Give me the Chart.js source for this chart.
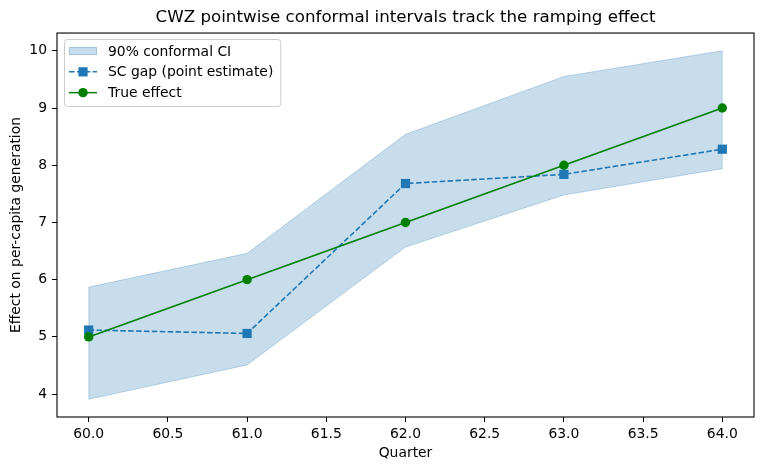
<!DOCTYPE html>
<html>
<head>
<meta charset="utf-8">
<script src="https://cdn.jsdelivr.net/npm/chart.js@4.4.1/dist/chart.umd.min.js"></script>
<style>
  body { margin: 0; background: #fff; }
  canvas { display: block; }
</style>
</head>
<body>
<canvas id="chart" width="764" height="470"></canvas>
<script>
const quarters = [60, 61, 62, 63, 64];
const ciUpper = [5.87, 6.46, 8.54, 9.55, 10.0];
const ciLower = [3.91, 4.51, 6.57, 7.48, 7.94];
const scGap = [5.12, 5.06, 7.68, 7.84, 8.28];
const trueEffect = [5, 6, 7, 8, 9];
const xTicks = [60, 60.5, 61, 61.5, 62, 62.5, 63, 63.5, 64];
const yTicks = [4, 5, 6, 7, 8, 9, 10];

const BLUE = '#1f77b4';
const GREEN = '#008000';
const BAND_FILL = 'rgba(31,119,180,0.25)';
const FONT = 'DejaVu Sans';

const pts = ys => quarters.map((q, i) => ({ x: q, y: ys[i] }));

// frame, band end edges and the legend box
const extras = {
  id: 'extras',
  beforeDatasetsDraw(chart) {
    const { ctx, scales: { x, y } } = chart;
    ctx.save();
    ctx.strokeStyle = BAND_FILL;
    ctx.lineWidth = 1;
    [0, quarters.length - 1].forEach(i => {
      const px = x.getPixelForValue(quarters[i]);
      ctx.beginPath();
      ctx.moveTo(px, y.getPixelForValue(ciLower[i]));
      ctx.lineTo(px, y.getPixelForValue(ciUpper[i]));
      ctx.stroke();
    });
    ctx.restore();
  },
  afterDraw(chart) {
    const { ctx, chartArea: a } = chart;
    ctx.save();
    ctx.strokeStyle = '#000';
    ctx.lineWidth = 1.1;
    ctx.strokeRect(a.left, a.top, a.right - a.left, a.bottom - a.top);

    // legend
    const items = [
      { label: '90% conformal CI', kind: 'band' },
      { label: 'SC gap (point estimate)', kind: 'sc' },
      { label: 'True effect', kind: 'true' }
    ];
    ctx.font = '13.9px "' + FONT + '"';
    const maxW = Math.max(...items.map(it => ctx.measureText(it.label).width));
    const bx = a.left + 7, by = a.top + 6;
    const bw = 44 + maxW + 7, bh = 67;
    ctx.beginPath();
    ctx.roundRect(bx + 0.5, by + 0.5, bw, bh, 3);
    ctx.fillStyle = 'rgba(255,255,255,0.8)';
    ctx.fill();
    ctx.strokeStyle = '#cccccc';
    ctx.lineWidth = 1;
    ctx.stroke();

    items.forEach((it, i) => {
      const cy = by + 12 + i * 20.8;
      const hx0 = bx + 5, hx1 = bx + 33, hc = (hx0 + hx1) / 2;
      if (it.kind === 'band') {
        ctx.fillStyle = BAND_FILL;
        ctx.fillRect(hx0, cy - 4, hx1 - hx0, 8);
        ctx.strokeStyle = BAND_FILL;
        ctx.strokeRect(hx0 + 0.5, cy - 3.5, hx1 - hx0 - 1, 7);
      } else {
        const col = it.kind === 'sc' ? BLUE : GREEN;
        ctx.strokeStyle = col;
        ctx.lineWidth = 1.5;
        ctx.setLineDash(it.kind === 'sc' ? [5.5, 2.4] : []);
        ctx.beginPath();
        ctx.moveTo(hx0, cy);
        ctx.lineTo(hx1, cy);
        ctx.stroke();
        ctx.setLineDash([]);
        ctx.fillStyle = col;
        if (it.kind === 'sc') {
          ctx.fillRect(hc - 4.6, cy - 4.6, 9.2, 9.2);
        } else {
          ctx.beginPath();
          ctx.arc(hc, cy, 4.7, 0, Math.PI * 2);
          ctx.fill();
        }
      }
      ctx.fillStyle = '#000';
      ctx.textBaseline = 'middle';
      ctx.textAlign = 'left';
      ctx.fillText(it.label, bx + 44, cy + 1);
    });
    ctx.restore();
  }
};

const tickFont = { family: FONT, size: 13.9 };

new Chart(document.getElementById('chart'), {
  type: 'line',
  data: {
    datasets: [
      {
        label: 'True effect',
        data: pts(trueEffect),
        borderColor: GREEN,
        backgroundColor: GREEN,
        borderWidth: 1.6,
        pointStyle: 'circle',
        pointRadius: 4.7,
        pointBorderWidth: 0,
        fill: false,
        order: 0
      },
      {
        label: 'SC gap (point estimate)',
        data: pts(scGap),
        borderColor: BLUE,
        backgroundColor: BLUE,
        borderWidth: 1.6,
        borderDash: [5.5, 2.4],
        pointStyle: 'rect',
        pointRadius: 6.5,
        pointBorderWidth: 0,
        fill: false,
        order: 1
      },
      {
        label: 'lower',
        data: pts(ciLower),
        borderColor: BAND_FILL,
        borderWidth: 1,
        pointRadius: 0,
        fill: false,
        order: 2
      },
      {
        label: '90% conformal CI',
        data: pts(ciUpper),
        borderColor: BAND_FILL,
        backgroundColor: BAND_FILL,
        borderWidth: 1,
        pointRadius: 0,
        fill: '-1',
        order: 3
      }
    ]
  },
  options: {
    responsive: false,
    animation: false,
    devicePixelRatio: 1,
    layout: { padding: { left: 0, right: 10, top: 0, bottom: 0 } },
    plugins: {
      legend: { display: false },
      tooltip: { enabled: false },
      title: {
        display: true,
        fullSize: false,
        text: 'CWZ pointwise conformal intervals track the ramping effect',
        color: '#000',
        font: { family: FONT, size: 16.7, weight: 'normal' },
        padding: { top: 8, bottom: 5 }
      }
    },
    scales: {
      x: {
        type: 'linear',
        min: 59.8,
        max: 64.2,
        afterBuildTicks: s => { s.ticks = xTicks.map(v => ({ value: v })); },
        afterFit: s => { s.height = 53; },
        border: { display: false },
        grid: { drawOnChartArea: false, drawTicks: true, tickLength: 5, color: '#000' },
        ticks: {
          color: '#000',
          font: tickFont,
          padding: 4,
          autoSkip: false,
          maxRotation: 0,
          callback: v => Number(v).toFixed(1)
        },
        title: {
          display: true,
          text: 'Quarter',
          color: '#000',
          font: tickFont,
          padding: { top: 0, bottom: 8.6 }
        }
      },
      y: {
        type: 'linear',
        min: 3.6,
        max: 10.31,
        afterBuildTicks: s => { s.ticks = yTicks.map(v => ({ value: v })); },
        afterFit: s => { s.width = 57; },
        border: { display: false },
        grid: { drawOnChartArea: false, drawTicks: true, tickLength: 5, color: '#000' },
        ticks: {
          color: '#000',
          font: tickFont,
          padding: 5,
          autoSkip: false,
          callback: v => String(v)
        },
        title: {
          display: true,
          text: 'Effect on per-capita generation',
          color: '#000',
          font: tickFont,
          padding: { top: 7.6, bottom: 0 }
        }
      }
    }
  },
  plugins: [extras]
});
</script>
</body>
</html>
